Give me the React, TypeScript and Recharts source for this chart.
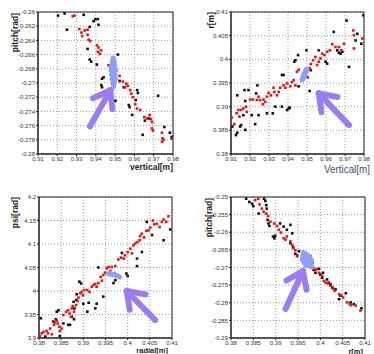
import React from "react";
import { ScatterChart, Scatter, XAxis, YAxis, CartesianGrid, ReferenceLine, ReferenceArea } from "recharts";

type Pt = [number, number];

// top-left: pitch vs vertical
const p1XTicks = [0.91, 0.92, 0.93, 0.94, 0.95, 0.96, 0.97, 0.98];
const p1YTicks = [-0.28, -0.278, -0.276, -0.274, -0.272, -0.27, -0.268, -0.266, -0.264, -0.262, -0.26];
const p1Black: Pt[] = [
  [0.9204, -0.2605], [0.9238, -0.2602], [0.925, -0.2625], [0.9337, -0.2604], [0.9368, -0.2621],
  [0.9388, -0.2613], [0.9397, -0.261], [0.941, -0.261], [0.9414, -0.2618], [0.9357, -0.2652],
  [0.9368, -0.2667], [0.9376, -0.267], [0.9405, -0.2674], [0.9432, -0.2694], [0.944, -0.2692],
  [0.9428, -0.2703], [0.9432, -0.2706], [0.9514, -0.266], [0.9502, -0.2725], [0.9523, -0.2697],
  [0.9545, -0.2706], [0.9571, -0.2731], [0.9575, -0.2734], [0.9588, -0.2745], [0.9614, -0.271],
  [0.9618, -0.2714], [0.9607, -0.2724], [0.9643, -0.2773], [0.9654, -0.2753], [0.9676, -0.275],
  [0.9723, -0.2718], [0.9755, -0.2762], [0.9784, -0.277], [0.9793, -0.2776], [0.9796, -0.2778],
];
const p1Red: Pt[] = [
  [0.928, -0.2606], [0.9289, -0.2605], [0.9314, -0.2624], [0.9325, -0.2629], [0.9329, -0.2634],
  [0.9342, -0.2626], [0.9357, -0.2625], [0.9357, -0.2632], [0.9363, -0.2639], [0.9371, -0.2641],
  [0.9406, -0.2647], [0.9414, -0.265], [0.9411, -0.2656], [0.942, -0.2659], [0.9427, -0.2654],
  [0.9466, -0.2675], [0.9475, -0.268], [0.9501, -0.2694], [0.9523, -0.269], [0.954, -0.2698],
  [0.9558, -0.2701], [0.9566, -0.2704], [0.9552, -0.2706], [0.9578, -0.271], [0.9584, -0.2715],
  [0.9592, -0.272], [0.9604, -0.273], [0.9613, -0.2736], [0.963, -0.2738], [0.9651, -0.2748],
  [0.9665, -0.275], [0.9679, -0.2745], [0.9686, -0.2751], [0.9691, -0.2755], [0.9691, -0.2764],
  [0.9696, -0.2767], [0.9743, -0.277], [0.9746, -0.2778], [0.9751, -0.278], [0.9743, -0.2783],
  [0.9793, -0.2778],
];
const p1Blob: Pt[] = [
  [0.949, -0.2665], [0.9485, -0.267], [0.9495, -0.267], [0.9482, -0.2676], [0.949, -0.2676],
  [0.9498, -0.2676], [0.948, -0.2682], [0.9488, -0.2682], [0.9496, -0.2682], [0.9503, -0.2682],
  [0.9482, -0.2688], [0.949, -0.2688], [0.9498, -0.2688], [0.9485, -0.2694], [0.9493, -0.2694],
  [0.9501, -0.2694], [0.9488, -0.27], [0.9496, -0.27], [0.9492, -0.2705],
];
const p1Arrow: Pt[] = [[0.937, -0.2761], [0.9475, -0.271]];

// top-right: r vs vertical
const p2XTicks = [0.91, 0.92, 0.93, 0.94, 0.95, 0.96, 0.97, 0.98];
const p2YTicks = [0.38, 0.385, 0.39, 0.395, 0.4, 0.405, 0.41];
const p2Black: Pt[] = [
  [0.9107, 0.3858], [0.9126, 0.384], [0.9133, 0.3845], [0.9133, 0.3924], [0.9148, 0.3858],
  [0.9153, 0.3861], [0.9165, 0.3882], [0.9171, 0.3935], [0.9175, 0.3912], [0.9175, 0.3851],
  [0.9192, 0.3935], [0.9209, 0.3882], [0.9227, 0.3863], [0.9232, 0.3928], [0.9239, 0.3945],
  [0.9245, 0.3882], [0.9289, 0.3886], [0.932, 0.3886], [0.9333, 0.39], [0.9368, 0.39],
  [0.9368, 0.3967], [0.9377, 0.3967], [0.9395, 0.3893], [0.9403, 0.3896], [0.9409, 0.3898],
  [0.9433, 0.3995], [0.9439, 0.3998], [0.9453, 0.4009], [0.9456, 0.3943], [0.9497, 0.4019],
  [0.9514, 0.3933], [0.952, 0.3977], [0.9562, 0.4019], [0.9598, 0.3995], [0.9606, 0.3991],
  [0.9641, 0.4058], [0.9659, 0.4019], [0.9668, 0.4014], [0.9677, 0.4012], [0.9686, 0.4016],
  [0.9708, 0.4082], [0.9721, 0.3984], [0.9756, 0.404], [0.9765, 0.4054], [0.9786, 0.4033],
  [0.9797, 0.4093],
];
const p2Red: Pt[] = [
  [0.9104, 0.3877], [0.9117, 0.3863], [0.913, 0.3886], [0.9139, 0.3893], [0.9144, 0.3879],
  [0.9153, 0.3893], [0.9165, 0.3896], [0.9179, 0.39], [0.9183, 0.3889], [0.9201, 0.3915],
  [0.9215, 0.3915], [0.9236, 0.3914], [0.9245, 0.3921], [0.9253, 0.3914], [0.9268, 0.3905],
  [0.9271, 0.3915], [0.928, 0.391], [0.9289, 0.3921], [0.9298, 0.3929], [0.931, 0.3924],
  [0.9324, 0.394], [0.9328, 0.3931], [0.9342, 0.3924], [0.9351, 0.3931], [0.9359, 0.394],
  [0.9377, 0.3945], [0.9386, 0.394], [0.9395, 0.3949], [0.9412, 0.3943], [0.9421, 0.3952],
  [0.943, 0.3956], [0.9439, 0.3945], [0.9447, 0.3974], [0.9456, 0.3978], [0.9492, 0.3967],
  [0.9504, 0.3962], [0.9514, 0.3981], [0.952, 0.399], [0.9532, 0.3998], [0.9544, 0.4005],
  [0.9553, 0.3988], [0.9562, 0.3995], [0.9571, 0.4002], [0.958, 0.4012], [0.9592, 0.4009],
  [0.9606, 0.4016], [0.962, 0.4019], [0.9633, 0.4032], [0.965, 0.4026], [0.9668, 0.4026],
  [0.968, 0.4019], [0.9694, 0.4033], [0.9744, 0.4061], [0.9747, 0.4051], [0.9747, 0.4023],
  [0.9791, 0.4044],
];
const p2Blob: Pt[] = [
  [0.9474, 0.3957], [0.9478, 0.3961], [0.9482, 0.3965], [0.9486, 0.3968], [0.949, 0.3972],
  [0.9494, 0.3975], [0.9498, 0.3979], [0.948, 0.396], [0.9488, 0.3966], [0.9492, 0.397],
  [0.9496, 0.3978], [0.9484, 0.3969],
];
const p2Arrow: Pt[] = [[0.9721, 0.3861], [0.9562, 0.3928]];

// bottom-left: psi vs radial
const p3XTicks = [0.38, 0.385, 0.39, 0.395, 0.4, 0.405, 0.41];
const p3YTicks = [3.9, 3.95, 4, 4.05, 4.1, 4.15, 4.2];
const p3Red: Pt[] = [
  [0.3802, 3.904], [0.3806, 3.91], [0.381, 3.913], [0.3817, 3.915], [0.382, 3.91],
  [0.3825, 3.92], [0.3829, 3.908], [0.3834, 3.928], [0.3836, 3.933], [0.384, 3.937],
  [0.3842, 3.931], [0.3846, 3.924], [0.3847, 3.915], [0.3851, 3.92], [0.3855, 3.949],
  [0.3861, 3.956], [0.3866, 3.959], [0.3869, 3.952], [0.3872, 3.945], [0.3874, 3.963],
  [0.3876, 3.968], [0.3879, 3.956], [0.3884, 3.97], [0.3887, 3.979], [0.3889, 3.986],
  [0.3893, 3.995], [0.3896, 3.998], [0.3899, 3.991], [0.3902, 4.002], [0.3909, 4.002],
  [0.3914, 3.998], [0.3919, 4.009], [0.3923, 4.013], [0.3927, 4.015], [0.393, 4.009],
  [0.3934, 4.017], [0.3939, 4.03], [0.3942, 4.022], [0.3945, 4.034], [0.3949, 4.039],
  [0.3953, 4.048], [0.3957, 4.051], [0.3961, 4.043], [0.3964, 4.051], [0.3972, 4.053],
  [0.3979, 4.067], [0.3985, 4.071], [0.3991, 4.069], [0.3994, 4.076], [0.4, 4.083],
  [0.4006, 4.09], [0.401, 4.08], [0.4013, 4.097], [0.4017, 4.101], [0.4022, 4.104],
  [0.4027, 4.108], [0.4028, 4.117], [0.4032, 4.122], [0.4037, 4.114], [0.4042, 4.128],
  [0.4047, 4.129], [0.4051, 4.135], [0.4057, 4.15], [0.406, 4.142], [0.4066, 4.143],
  [0.4072, 4.136], [0.4077, 4.147], [0.4081, 4.152], [0.4087, 4.147], [0.4092, 4.159],
];
const p3Black: Pt[] = [
  [0.3804, 3.942], [0.3814, 3.903], [0.3832, 3.935], [0.3838, 3.94], [0.384, 3.956],
  [0.3844, 3.959], [0.3847, 3.904], [0.3855, 3.931], [0.3866, 3.928], [0.387, 3.928],
  [0.3874, 3.945], [0.3878, 3.977], [0.388, 3.963], [0.3879, 3.94], [0.3884, 3.981],
  [0.3885, 3.993], [0.3891, 4.02], [0.3895, 4.016], [0.39, 3.973], [0.3909, 3.956],
  [0.3912, 3.975], [0.3927, 3.963], [0.393, 3.973], [0.3934, 4.05], [0.3945, 3.988],
  [0.3968, 4.017], [0.3972, 4.023], [0.3987, 4.081], [0.3997, 4.037], [0.4, 4.032],
  [0.4021, 4.069], [0.4021, 4.053], [0.4032, 4.083], [0.4043, 4.147], [0.4055, 4.119],
  [0.4081, 4.108], [0.4096, 4.131],
];
const p3Blob: Pt[] = [
  [0.3957, 4.037], [0.3962, 4.036], [0.3967, 4.035], [0.3972, 4.034], [0.3977, 4.032],
  [0.3981, 4.03], [0.396, 4.038], [0.397, 4.036],
];
const p3Arrow: Pt[] = [[0.4062, 3.938], [0.3998, 4.0]];

// bottom-right: pitch vs r
const p4XTicks = [0.38, 0.385, 0.39, 0.395, 0.4, 0.405, 0.41];
const p4YTicks = [-0.29, -0.285, -0.28, -0.275, -0.27, -0.265, -0.26, -0.255, -0.25];
const p4Black: Pt[] = [
  [0.3834, -0.2505], [0.3841, -0.2514], [0.3847, -0.2519], [0.385, -0.2526], [0.3862, -0.2547],
  [0.3874, -0.2505], [0.3877, -0.2511], [0.3879, -0.2523], [0.388, -0.2533], [0.3882, -0.2565],
  [0.3884, -0.2575], [0.3886, -0.2582], [0.3894, -0.2612], [0.3897, -0.2617], [0.3899, -0.261],
  [0.391, -0.2575], [0.3918, -0.2584], [0.3925, -0.2593], [0.3933, -0.2579], [0.3937, -0.2603],
  [0.3933, -0.2631], [0.3939, -0.2642], [0.3944, -0.2661], [0.3948, -0.2666], [0.3952, -0.2654],
  [0.3978, -0.2668], [0.3982, -0.2687], [0.3985, -0.2707], [0.3989, -0.2715], [0.3997, -0.2704],
  [0.4, -0.272], [0.4004, -0.2729], [0.4006, -0.2715], [0.4015, -0.2734], [0.4019, -0.2743],
  [0.4023, -0.2748], [0.4027, -0.2757], [0.4034, -0.2762], [0.4042, -0.279], [0.4045, -0.278],
  [0.4057, -0.2773], [0.4068, -0.2799], [0.4075, -0.2804], [0.4092, -0.2816],
];
const p4Red: Pt[] = [
  [0.3854, -0.2509], [0.3861, -0.2505], [0.3864, -0.2521], [0.3869, -0.2533], [0.3873, -0.2542],
  [0.3879, -0.2547], [0.3883, -0.2554], [0.3888, -0.257], [0.3897, -0.2575], [0.3903, -0.2582],
  [0.3907, -0.2593], [0.3912, -0.2601], [0.3918, -0.2617], [0.3922, -0.2621], [0.3925, -0.2612],
  [0.3933, -0.2626], [0.3937, -0.2636], [0.394, -0.2645], [0.3944, -0.2651], [0.3948, -0.2668],
  [0.3978, -0.2696], [0.3984, -0.2701], [0.3989, -0.2707], [0.3993, -0.2704], [0.3997, -0.2715],
  [0.4004, -0.2724], [0.4008, -0.2738], [0.4012, -0.2743], [0.4017, -0.2745], [0.4023, -0.2752],
  [0.4029, -0.276], [0.4032, -0.2766], [0.4042, -0.2776], [0.4047, -0.2779], [0.4051, -0.2785],
  [0.406, -0.2799], [0.4066, -0.2804], [0.4069, -0.2807], [0.4079, -0.2808], [0.409, -0.2822],
];
const p4Blob: Pt[] = [
  [0.3962, -0.2658], [0.3968, -0.2662], [0.3961, -0.2668], [0.3968, -0.2669], [0.3975, -0.2668],
  [0.3960, -0.2677], [0.3967, -0.2677], [0.3974, -0.2677], [0.398, -0.2679], [0.3964, -0.2686],
  [0.3971, -0.2686], [0.3978, -0.2688], [0.3968, -0.2694], [0.3975, -0.2695], [0.3981, -0.2698],
];
const p4Arrow: Pt[] = [[0.3922, -0.2818], [0.3961, -0.271]];

const ARROW = "#9a7cf3";
const BLOB = "#8e9ff6";
const FONT = "'Liberation Sans', Arial, sans-serif";

const toData = (pts: Pt[]) => pts.map(([x, y]) => ({ x, y }));
const fmt = (v: number) => String(Number(v.toFixed(4)));

const square = (color: string, s: number) => (props: any) =>
  <rect x={props.cx - s / 2} y={props.cy - s / 2} width={s} height={s} fill={color} />;

const blobDot = (props: any) => <circle cx={props.cx} cy={props.cy} r={2.6} fill={BLOB} />;

// thick purple pointer: x1,y1 = tail, x2,y2 = tip
function ArrowShape(props: any) {
  const { x1, y1, x2, y2 } = props;
  if ([x1, y1, x2, y2].some((v) => typeof v !== "number" || isNaN(v))) return <g />;
  const ang = Math.atan2(y1 - y2, x1 - x2);
  const len = 19;
  const spread = 0.62;
  const ax = x2 + len * Math.cos(ang + spread);
  const ay = y2 + len * Math.sin(ang + spread);
  const bx = x2 + len * Math.cos(ang - spread);
  const by = y2 + len * Math.sin(ang - spread);
  return (
    <g stroke={ARROW} strokeWidth={6} strokeLinecap="round" fill="none">
      <line x1={x1} y1={y1} x2={x2} y2={y2} />
      <line x1={x2} y1={y2} x2={ax} y2={ay} />
      <line x1={x2} y1={y2} x2={bx} y2={by} />
    </g>
  );
}

const tickStyle = { fontSize: 6, fill: "#333", fontFamily: FONT };

interface PanelProps {
  left: number;
  top: number;
  margin: { top: number; right: number; bottom: number; left: number };
  yWidth: number;
  xTicks: number[];
  yTicks: number[];
  black: Pt[];
  red: Pt[];
  blob: Pt[];
  arrow: Pt[];
}

function Panel({ left, top, margin, yWidth, xTicks, yTicks, black, red, blob, arrow }: PanelProps) {
  const xd: [number, number] = [xTicks[0], xTicks[xTicks.length - 1]];
  const yd: [number, number] = [yTicks[0], yTicks[yTicks.length - 1]];
  return (
    <div style={{ position: "absolute", left, top }}>
      <ScatterChart width={187} height={177} margin={margin}>
        <CartesianGrid stroke="#9a9a9a" strokeDasharray="1 2" />
        <XAxis type="number" dataKey="x" domain={xd} ticks={xTicks} interval={0} allowDataOverflow
          tickFormatter={fmt} height={12} tickSize={2} tickMargin={1} tick={tickStyle}
          axisLine={{ stroke: "#222" }} tickLine={{ stroke: "#222" }} />
        <YAxis type="number" dataKey="y" domain={yd} ticks={yTicks} interval={0} allowDataOverflow
          tickFormatter={fmt} width={yWidth} tickSize={2} tickMargin={1} tick={tickStyle}
          axisLine={{ stroke: "#222" }} tickLine={{ stroke: "#222" }} />
        <ReferenceArea x1={xd[0]} x2={xd[1]} y1={yd[0]} y2={yd[1]} fill="none" stroke="#222" ifOverflow="visible" />
        <Scatter data={toData(black)} shape={square("#111", 2.6)} isAnimationActive={false} />
        <Scatter data={toData(red)} shape={square("#f01010", 2.6)} isAnimationActive={false} />
        <Scatter data={toData(blob)} shape={blobDot} isAnimationActive={false} />
        <ReferenceLine segment={[{ x: arrow[0][0], y: arrow[0][1] }, { x: arrow[1][0], y: arrow[1][1] }]}
          shape={ArrowShape} ifOverflow="visible" />
      </ScatterChart>
    </div>
  );
}

export default function App() {
  return (
    <div style={{ position: "absolute", left: 0, top: 0, width: 374, height: 354, background: "#fff", overflow: "hidden" }}>
      <Panel left={0} top={0} margin={{ top: 12, right: 14, bottom: 11, left: 0 }} yWidth={38}
        xTicks={p1XTicks} yTicks={p1YTicks} black={p1Black} red={p1Red} blob={p1Blob} arrow={p1Arrow} />
      <Panel left={187} top={0} margin={{ top: 12, right: 10, bottom: 11, left: 0 }} yWidth={44}
        xTicks={p2XTicks} yTicks={p2YTicks} black={p2Black} red={p2Red} blob={p2Blob} arrow={p2Arrow} />
      <Panel left={0} top={177} margin={{ top: 20, right: 15, bottom: 4, left: 0 }} yWidth={39}
        xTicks={p3XTicks} yTicks={p3YTicks} black={p3Black} red={p3Red} blob={p3Blob} arrow={p3Arrow} />
      <Panel left={187} top={177} margin={{ top: 20, right: 9, bottom: 4, left: 0 }} yWidth={44}
        xTicks={p4XTicks} yTicks={p4YTicks} black={p4Black} red={p4Red} blob={p4Blob} arrow={p4Arrow} />
      <svg width={374} height={354} style={{ position: "absolute", left: 0, top: 0, pointerEvents: "none" }}
        fontFamily={FONT} fontWeight="bold" fill="#222">
        <text x={173} y={170} fontSize={8.5} textAnchor="end">vertical[m]</text>
        <text transform="translate(17.5,13) rotate(-90)" fontSize={8.5} textAnchor="end">pitch[rad]</text>
        <text transform="translate(213.5,12) rotate(-90)" fontSize={8.5} textAnchor="end">r[m]</text>
        <text x={370} y={173} fontSize={11} fontWeight="normal" fill="#3d5070" textAnchor="end"
          textLength={46} lengthAdjust="spacingAndGlyphs">Vertical[m]</text>
        <text transform="translate(18,197) rotate(-90)" fontSize={8.5} textAnchor="end">psi[rad]</text>
        <text x={168} y={353} fontSize={7.5} textAnchor="end">radial[m]</text>
        <text transform="translate(211.5,198) rotate(-90)" fontSize={8.5} textAnchor="end">pitch[rad]</text>
        <text x={363} y={353.5} fontSize={7.5} textAnchor="end">r[m]</text>
      </svg>
    </div>
  );
}
